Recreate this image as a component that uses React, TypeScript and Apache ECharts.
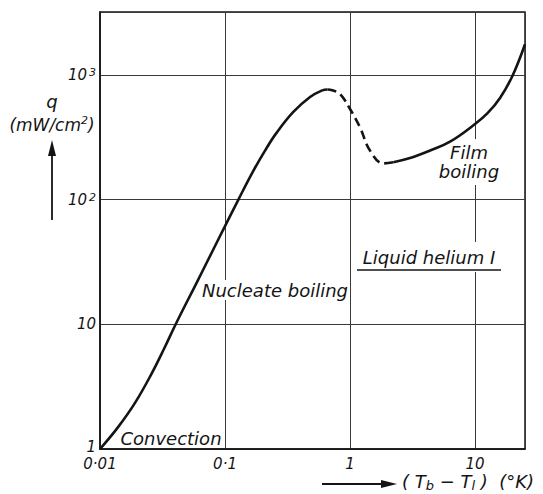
import React, { useEffect, useRef } from "react";
import * as echarts from "echarts";

// Heat flux q (mW/cm²) against temperature difference (Tb − Tl) in °K, liquid helium I
const nucleateBoiling: [number, number][] = [
  [0.01, 1], [0.0139, 1.49], [0.019, 2.33], [0.0257, 3.97], [0.0329, 6.51],
  [0.0405, 10.1], [0.0594, 21.6], [0.0806, 39.8], [0.1, 61.3], [0.128, 100],
  [0.168, 169], [0.209, 247], [0.259, 344], [0.352, 504], [0.479, 664],
  [0.6, 751], [0.66, 763],
];
const transitionRegion: [number, number][] = [
  [0.66, 763], [0.72, 751], [0.832, 701], [1, 532], [1.202, 379], [1.445, 247],
  [1.847, 195], [2.22, 199],
];
const filmBoiling: [number, number][] = [
  [2.22, 199], [3.02, 215], [4.37, 247], [6.31, 291], [10, 403],
  [12.59, 493], [15.85, 653], [19.95, 984], [25.1, 1760],
];

const xTicks = [0.01, 0.1, 1, 10];
const xTickLabels = ["0·01", "0·1", "1", "10"];
const yTicks = [1, 10, 100, 1000];
const yTickLabels = ["{low|1}", "10", "10{sup|2}", "10{sup|3}"];

const X_MIN = 0.01;
const X_MAX = 25.1;
const Y_MIN = 1;
const Y_MAX = 3190;

const FONT = "DejaVu Sans";
const INK = "#141414";

function tickLabel(ticks: number[], labels: string[]) {
  return (v: number) => {
    const i = ticks.findIndex((t) => Math.abs(Math.log10(v) - Math.log10(t)) < 1e-6);
    return i >= 0 ? labels[i] : "";
  };
}

const textStyle = (size: number) => ({
  fontFamily: FONT,
  fontStyle: "italic",
  fontSize: size,
  fill: INK,
});

export default function App() {
  const ref = useRef<HTMLDivElement>(null);

  useEffect(() => {
    if (!ref.current) return;
    const chart = echarts.init(ref.current, undefined, { renderer: "svg" });

    const curveStyle = { color: INK, width: 2.6 };
    const curve = {
      type: "line",
      smooth: 0.4,
      showSymbol: false,
      z: 3,
    };

    chart.setOption({
      animation: false,
      backgroundColor: "#ffffff",
      grid: {
        left: 100,
        right: 18,
        top: 12,
        bottom: 45,
        show: true,
        borderColor: INK,
        borderWidth: 1.5,
        outerBoundsMode: "none",
      },
      xAxis: {
        type: "log",
        logBase: 10,
        min: X_MIN,
        max: X_MAX,
        axisLine: { show: true, lineStyle: { color: INK, width: 1.5 } },
        axisTick: { show: false },
        splitLine: { show: true, lineStyle: { color: "#3a3a3a", width: 1 } },
        axisLabel: {
          formatter: tickLabel(xTicks, xTickLabels),
          margin: 8,
          color: INK,
          fontFamily: FONT,
          fontStyle: "italic",
          fontSize: 15,
          lineHeight: 13,
          showMaxLabel: true,
        },
      },
      yAxis: {
        type: "log",
        logBase: 10,
        min: Y_MIN,
        max: Y_MAX,
        axisLine: { show: true, lineStyle: { color: INK, width: 1.5 } },
        axisTick: { show: false },
        splitLine: { show: true, lineStyle: { color: "#3a3a3a", width: 1 } },
        axisLabel: {
          formatter: tickLabel(yTicks, yTickLabels),
          margin: 4,
          color: INK,
          fontFamily: FONT,
          fontStyle: "italic",
          fontSize: 15,
          lineHeight: 15,
          rich: {
            sup: {
              fontFamily: FONT,
              fontStyle: "italic",
              fontSize: 11,
              color: INK,
              verticalAlign: "top",
              padding: [0, 0, 12, 2],
            },
            low: {
              fontFamily: FONT,
              fontStyle: "italic",
              fontSize: 15,
              lineHeight: 13,
              color: INK,
              padding: [0, 0, 5, 0],
            },
          },
        },
      },
      series: [
        { ...curve, name: "Nucleate boiling", data: nucleateBoiling, lineStyle: curveStyle },
        { ...curve, name: "Transition", data: transitionRegion, lineStyle: { ...curveStyle, type: [9, 5] } },
        { ...curve, name: "Film boiling", data: filmBoiling, lineStyle: curveStyle },
      ],
      graphic: [
        // region labels (white boxes mask the grid lines, curve stays on top)
        {
          type: "text",
          x: 171,
          y: 438,
          z: 1,
          style: { ...textStyle(18), text: "Convection", align: "center", verticalAlign: "middle", backgroundColor: "#fff", padding: [0, 2] },
        },
        {
          type: "text",
          x: 275,
          y: 290,
          z: 1,
          style: { ...textStyle(18), text: "Nucleate boiling", align: "center", verticalAlign: "middle", backgroundColor: "#fff", padding: [1, 2] },
        },
        {
          type: "text",
          x: 429,
          y: 257,
          z: 1,
          style: { ...textStyle(18), text: "Liquid helium I", align: "center", verticalAlign: "middle", backgroundColor: "#fff", padding: [4, 4, 8, 4] },
        },
        {
          type: "line",
          z: 2,
          shape: { x1: 357, y1: 270, x2: 501, y2: 270 },
          style: { stroke: INK, lineWidth: 1.6 },
        },
        {
          type: "text",
          x: 469,
          y: 162,
          z: 1,
          style: { ...textStyle(18), text: "Film\nboiling", lineHeight: 19, align: "center", verticalAlign: "middle", backgroundColor: "#fff", padding: [0, 3, 8, 3] },
        },
        // y-axis title with upward arrow
        {
          type: "text",
          x: 52,
          y: 101,
          style: { ...textStyle(18), text: "q", align: "center", verticalAlign: "middle" },
        },
        {
          type: "text",
          x: 52,
          y: 125,
          style: {
            ...textStyle(17),
            text: "(mW/cm{sup|2})",
            align: "center",
            verticalAlign: "middle",
            rich: {
              sup: { fontFamily: FONT, fontStyle: "italic", fontSize: 11, fill: INK, verticalAlign: "top", padding: [0, 0, 10, 0] },
            },
          },
        },
        {
          type: "line",
          shape: { x1: 52, y1: 220, x2: 52, y2: 152 },
          style: { stroke: INK, lineWidth: 1.8 },
        },
        {
          type: "polygon",
          shape: { points: [[52, 140], [48, 156], [56, 156]] },
          style: { fill: INK },
        },
        // x-axis title with rightward arrow
        {
          type: "line",
          shape: { x1: 322, y1: 484, x2: 384, y2: 484 },
          style: { stroke: INK, lineWidth: 1.8 },
        },
        {
          type: "polygon",
          shape: { points: [[397, 484], [381, 480], [381, 488]] },
          style: { fill: INK },
        },
        {
          type: "text",
          x: 402,
          y: 481,
          style: {
            ...textStyle(18),
            text: "( T{sub|b} − T{sub|l} )  (°K)",
            align: "left",
            verticalAlign: "middle",
            rich: {
              sub: { fontFamily: FONT, fontStyle: "italic", fontSize: 13, fill: INK, verticalAlign: "bottom", padding: [8, 0, 0, 0] },
            },
          },
        },
      ],
    });

    return () => chart.dispose();
  }, []);

  return (
    <div
      ref={ref}
      style={{ position: "fixed", left: 0, top: 0, width: 543, height: 494 }}
    />
  );
}
